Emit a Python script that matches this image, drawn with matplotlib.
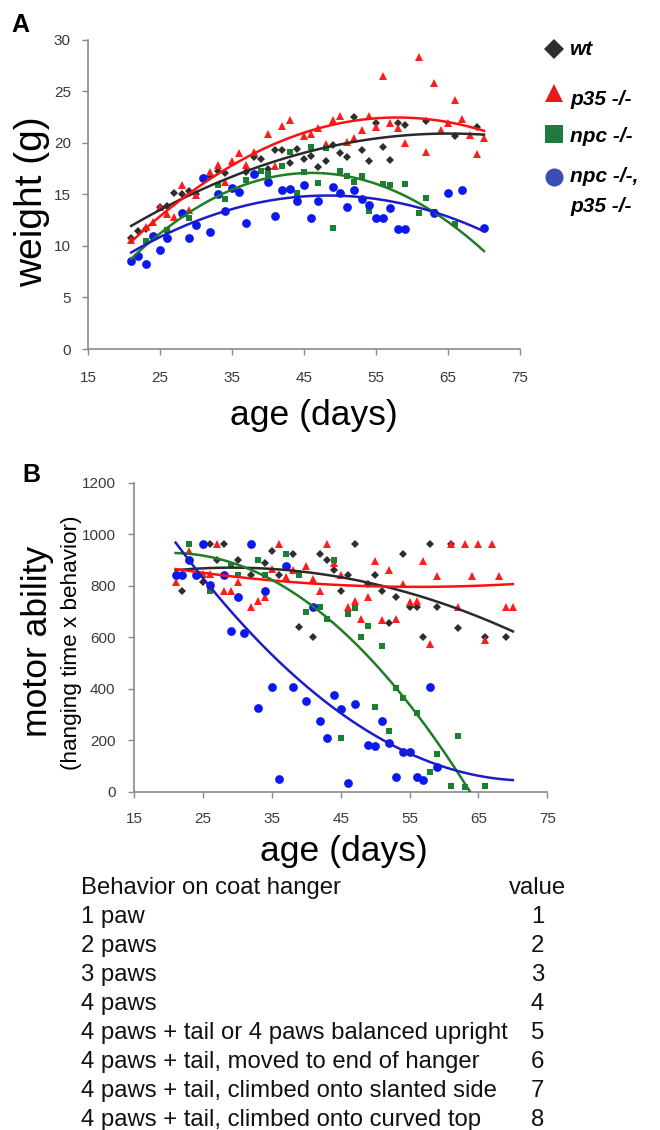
import numpy as np
import matplotlib
matplotlib.use("Agg")
import matplotlib.pyplot as plt

plt.rcParams['font.family'] = ['Liberation Sans', 'DejaVu Sans']

# ---------------- data ----------------
series_labels = ['wt', 'p35 -/-', 'npc -/-', 'npc -/-,\np35 -/-']

# Panel A: weight (g) vs age (days)
wt_age_A = [21, 22, 23, 25, 26, 27, 28, 29, 30, 32, 33, 34, 37, 38, 39, 40, 41, 42, 43, 44, 45,
            46, 47, 48, 49, 50, 51, 52, 53, 54, 55, 56, 57, 58, 59, 62, 66, 69]
wt_wt_A = [10.8, 11.4, 11.6, 13.8, 13.9, 15.1, 15.0, 15.3, 15.0, 16.8, 17.3, 17.1, 17.2, 18.6, 18.4,
           17.4, 19.3, 19.3, 18.0, 19.4, 18.4, 18.7, 17.6, 18.2, 19.8, 19.0, 18.6, 22.5, 19.3, 18.2,
           21.9, 19.6, 18.3, 21.9, 21.7, 22.1, 20.6, 21.5]

p35_age_A = [21, 23, 24, 25, 26, 27, 28, 29, 30, 32, 33, 34, 35, 36, 37, 38, 40, 41, 42, 43, 45,
             46, 47, 48, 49, 50, 51, 52, 53, 54, 55, 56, 57, 58, 59, 61, 62, 63, 64, 65, 66, 67,
             68, 69, 70]
p35_wt_A = [10.6, 11.8, 12.3, 13.8, 13.1, 12.8, 15.9, 13.5, 14.9, 17.2, 17.8, 16.2, 18.2, 19.0, 17.8,
            19.1, 20.8, 17.7, 21.6, 22.2, 20.6, 20.8, 21.4, 19.9, 22.2, 22.6, 20.1, 20.5, 21.2, 22.6,
            21.5, 26.5, 21.9, 21.4, 20.0, 28.3, 19.1, 25.8, 21.2, 21.9, 24.1, 22.3, 20.7, 18.9, 20.5]

npc_age_A = [23, 26, 29, 30, 33, 34, 37, 39, 40, 42, 43, 44, 45, 46, 47, 48, 49, 50, 51, 52, 53,
             54, 56, 57, 59, 61, 62, 63, 66]
npc_wt_A = [10.5, 11.5, 12.7, 12.0, 15.9, 14.5, 16.4, 17.3, 17.0, 17.7, 19.1, 15.1, 17.2, 19.6, 16.1,
            19.5, 11.7, 17.3, 16.8, 16.2, 16.8, 13.4, 16.0, 15.9, 16.0, 13.2, 14.6, 13.3, 12.1]

dko_age_A = [21, 22, 23, 24, 25, 26, 28, 29, 30, 31, 32, 33, 34, 35, 36, 37, 38, 40, 41, 42, 43,
             44, 45, 46, 47, 49, 50, 51, 52, 53, 54, 55, 56, 57, 58, 59, 63, 65, 67, 70]
dko_wt_A = [8.5, 9.0, 8.2, 11.0, 9.6, 10.8, 13.2, 10.8, 12.0, 16.6, 11.3, 15.0, 13.4, 15.6, 15.2,
            12.2, 17.0, 16.2, 12.9, 15.4, 15.5, 14.3, 15.9, 12.7, 14.3, 15.7, 15.1, 13.8, 15.4, 14.5,
            14.0, 12.7, 12.7, 13.7, 11.6, 11.6, 13.2, 15.1, 15.4, 11.7]

# Panel B: motor ability (hanging time x behavior) vs age (days)
wt_age_B = [22, 25, 26, 27, 28, 30, 32, 34, 35, 36, 38, 39, 41, 42, 43, 44, 45, 46, 47, 49, 50,
            51, 52, 53, 54, 55, 56, 57, 58, 59, 61, 62, 66, 69]
wt_mot_B = [781, 815, 961, 899, 961, 899, 843, 890, 935, 843, 923, 639, 600, 923, 899, 861, 781, 843,
            961, 807, 843, 781, 655, 755, 923, 716, 716, 600, 961, 716, 961, 636, 600, 600]

p35_age_B = [21, 23, 25, 26, 27, 28, 29, 30, 32, 33, 34, 35, 36, 37, 38, 40, 41, 42, 43, 44, 45,
             46, 47, 48, 49, 50, 51, 52, 53, 54, 55, 56, 57, 58, 59, 61, 62, 63, 64, 65, 66, 67,
             68, 69, 70]
p35_mot_B = [815, 935, 845, 845, 961, 778, 778, 813, 716, 742, 755, 865, 961, 832, 862, 877, 826,
             781, 961, 890, 843, 719, 742, 671, 755, 897, 668, 861, 671, 807, 736, 742, 897, 574,
             839, 961, 716, 961, 839, 961, 590, 961, 839, 716, 716]

npc_age_B = [23, 26, 29, 30, 33, 34, 37, 39, 40, 42, 43, 44, 45, 46, 47, 48, 49, 50, 51, 52, 53,
             54, 56, 58, 59, 61, 62, 63, 66]
npc_mot_B = [961, 778, 881, 843, 899, 843, 923, 843, 697, 719, 671, 899, 210, 690, 712, 600, 645,
             329, 564, 236, 404, 365, 307, 78, 146, 22, 217, 17, 22]

dko_age_B = [21, 22, 23, 24, 25, 26, 28, 29, 30, 31, 32, 33, 34, 35, 36, 37, 38, 40, 41, 42, 43,
             44, 45, 46, 47, 49, 50, 51, 52, 53, 54, 55, 56, 57, 58, 59]
dko_mot_B = [843, 843, 901, 843, 961, 804, 843, 626, 755, 617, 961, 326, 778, 406, 48, 877, 406,
             351, 719, 274, 210, 377, 323, 35, 339, 183, 177, 274, 191, 56, 155, 155, 58, 45, 406, 94]

age_ticks = [15, 25, 35, 45, 55, 65, 75]
weight_ticks = [0, 5, 10, 15, 20, 25, 30]
motor_ticks = [0, 200, 400, 600, 800, 1000, 1200]

behaviors = ['1 paw', '2 paws', '3 paws', '4 paws',
             '4 paws + tail or 4 paws balanced upright',
             '4 paws + tail, moved to end of hanger',
             '4 paws + tail, climbed onto slanted side',
             '4 paws + tail, climbed onto curved top']
behavior_values = [1, 2, 3, 4, 5, 6, 7, 8]

# ---------------- styling ----------------
W, H = 660, 1130
fig = plt.figure(figsize=(W / 100, H / 100), dpi=100)

marker_styles = [
    dict(marker='D', ms=3.8, color='#2e2e2e'),
    dict(marker='^', ms=6.0, color='#ff1c1c'),
    dict(marker='s', ms=4.9, color='#1a8034'),
    dict(marker='o', ms=6.3, color='#0c18f0'),
]
line_colors = ['#2a2a2a', '#ff1010', '#1f7d24', '#1c1cc8']
spine_col = '#8a8a8a'
tick_col = '#3a3a3a'


def style_axes(ax, xpad, ypad, lsize):
    for s in ['top', 'right']:
        ax.spines[s].set_visible(False)
    for s in ['left', 'bottom']:
        ax.spines[s].set_color(spine_col)
        ax.spines[s].set_linewidth(1.2)
    ax.tick_params(axis='both', direction='out', length=4, width=1, color=spine_col,
                   labelsize=lsize, labelcolor=tick_col)
    ax.tick_params(axis='x', pad=xpad)
    ax.tick_params(axis='y', pad=ypad)


def draw_panel(ax, ages, vals):
    all_ages = np.concatenate([np.asarray(a, float) for a in ages])
    grid = np.linspace(all_ages.min(), all_ages.max(), 300)
    for a, v, st in zip(ages, vals, marker_styles):
        ax.plot(a, v, linestyle='none', markeredgewidth=0, clip_on=False, **st)
    for a, v, lc in zip(ages, vals, line_colors):
        coef = np.polyfit(a, v, 2)
        ax.plot(grid, np.polyval(coef, grid), color=lc, lw=1.8, zorder=3)


# Panel A
axA = fig.add_axes([88 / W, 1 - 349 / H, 432 / W, 309.5 / H])
draw_panel(axA, [wt_age_A, p35_age_A, npc_age_A, dko_age_A],
           [wt_wt_A, p35_wt_A, npc_wt_A, dko_wt_A])
axA.set_xlim(15, 75)
axA.set_ylim(0, 30)
axA.set_xticks(age_ticks)
axA.set_yticks(weight_ticks)
style_axes(axA, xpad=12.0, ypad=8.3, lsize=11)

# Panel B
axB = fig.add_axes([134.3 / W, 1 - 791.7 / H, 413 / W, 309 / H])
draw_panel(axB, [wt_age_B, p35_age_B, npc_age_B, dko_age_B],
           [wt_mot_B, p35_mot_B, npc_mot_B, dko_mot_B])
axB.set_xlim(15, 75)
axB.set_ylim(0, 1200)
axB.set_xticks(age_ticks)
axB.set_yticks(motor_ticks)
style_axes(axB, xpad=10.3, ypad=9.5, lsize=11)

# Overlay in pixel coordinates for labels, legend and table
ov = fig.add_axes([0, 0, 1, 1])
ov.set_xlim(0, W)
ov.set_ylim(H, 0)
ov.axis('off')

ov.text(11.5, 31.7, 'A', fontsize=18, fontweight='bold', ha='left', va='baseline')
ov.text(22.5, 481.7, 'B', fontsize=18, fontweight='bold', ha='left', va='baseline')

ov.text(31.7, 201.7, 'weight (g)', fontsize=28, rotation=90, ha='center', va='center')
ov.text(314, 416, 'age (days)', fontsize=25.5, ha='center', va='center')

ov.text(37.5, 641.7, 'motor ability', fontsize=25.5, rotation=90, ha='center', va='center')
ov.text(71.5, 643, '(hanging time x behavior)', fontsize=16.2, rotation=90,
        ha='center', va='center')
ov.text(343.7, 851, 'age (days)', fontsize=25.5, ha='center', va='center')

# legend
leg_markers = [
    dict(marker='D', ms=10.0, color='#2e2e2e'),
    dict(marker='^', ms=13.5, color='#e8191c'),
    dict(marker='s', ms=12.5, color='#1e7a3e'),
    dict(marker='o', ms=13.0, color='#3a4db5'),
]
leg_marker_y = [49.3, 92.7, 134.3, 176.7]
leg_text_y = [55, 105, 141.7, 181.7]
for i, (lab, st) in enumerate(zip(series_labels, leg_markers)):
    ov.plot([554], [leg_marker_y[i]], linestyle='none', markeredgewidth=0, **st)
    for j, line in enumerate(lab.split('\n')):
        ov.text(570, leg_text_y[i] + 30 * j, line, fontsize=15, fontweight='bold',
                fontstyle='italic', ha='left', va='baseline')

# behavior table
ov.text(80.7, 894.3, 'Behavior on coat hanger', fontsize=17.2, ha='left', va='baseline',
        color='#111111')
ov.text(509, 894.3, 'value', fontsize=17.2, ha='left', va='baseline', color='#111111')
for i, (b, v) in enumerate(zip(behaviors, behavior_values)):
    y = 923.3 + 29 * i
    ov.text(80.7, y, b, fontsize=17.2, ha='left', va='baseline', color='#111111')
    ov.text(537.4, y, str(v), fontsize=17.2, ha='center', va='baseline', color='#111111')

fig.savefig('out.png', dpi=100)
